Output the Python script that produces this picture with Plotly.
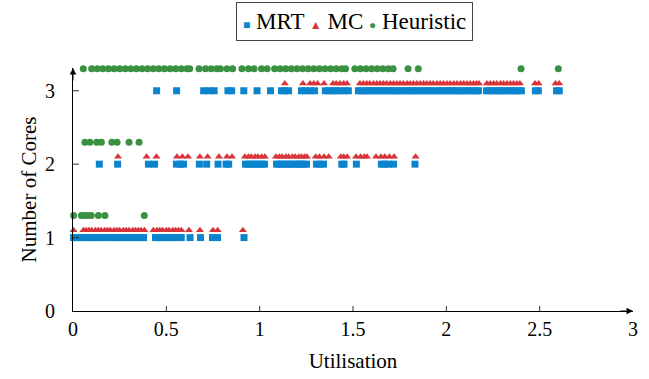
import plotly.graph_objects as go

# ---------------- data (utilisation values) ----------------
series_names = ["MRT", "MC", "Heuristic"]

# MRT
mrt_u_1 = [0.003, 0.02, 0.035, 0.05, 0.065, 0.085, 0.10, 0.115, 0.13, 0.15, 0.165, 0.18,
           0.20, 0.215, 0.23, 0.245, 0.265, 0.28, 0.295, 0.31, 0.33, 0.345, 0.36, 0.378,
           0.442, 0.46, 0.475, 0.49, 0.51, 0.525, 0.545, 0.56, 0.58, 0.627, 0.683, 0.747,
           0.774, 0.916]
mrt_u_2 = [0.141, 0.239, 0.404, 0.437, 0.554, 0.575, 0.592, 0.677, 0.716, 0.777, 0.82, 0.834,
           0.924, 0.94, 0.96, 0.975, 0.99, 1.01, 1.026, 1.09, 1.105, 1.12, 1.14, 1.155,
           1.17, 1.19, 1.205, 1.22, 1.235, 1.251, 1.304, 1.325, 1.342, 1.44, 1.452, 1.518,
           1.652, 1.67, 1.688, 1.717, 1.832]
mrt_u_3 = [0.448, 0.555, 0.70, 0.728, 0.756, 0.83, 0.85, 0.915, 0.986, 1.058, 1.117, 1.135,
           1.155, 1.224, 1.245, 1.27, 1.294, 1.352, 1.372, 1.392, 1.41, 1.43, 1.455, 1.475,
           1.529, 1.545, 1.562, 1.58, 1.596, 1.613, 1.63, 1.648, 1.665, 1.682, 1.70, 1.716,
           1.733, 1.75, 1.768, 1.785, 1.802, 1.82, 1.836, 1.853, 1.87, 1.888, 1.905, 1.922,
           1.94, 1.956, 1.973, 1.99, 2.008, 2.025, 2.042, 2.06, 2.076, 2.093, 2.11, 2.128,
           2.145, 2.16, 2.172, 2.215, 2.232, 2.25, 2.268, 2.285, 2.30, 2.318, 2.335, 2.352,
           2.37, 2.386, 2.402, 2.477, 2.493, 2.59, 2.605]

# MC
mc_u_1 = [0.003, 0.056, 0.07, 0.085, 0.10, 0.12, 0.135, 0.15, 0.17, 0.185, 0.20, 0.22,
          0.235, 0.25, 0.27, 0.285, 0.30, 0.32, 0.335, 0.35, 0.365, 0.383, 0.431, 0.45,
          0.465, 0.48, 0.50, 0.515, 0.535, 0.55, 0.565, 0.581, 0.621, 0.68, 0.75, 0.775,
          0.91]
mc_u_2 = [0.241, 0.394, 0.447, 0.557, 0.586, 0.616, 0.68, 0.721, 0.782, 0.825, 0.852,
          0.921, 0.94, 0.955, 0.975, 0.99, 1.01, 1.028, 1.087, 1.105, 1.12, 1.14, 1.155,
          1.175, 1.19, 1.21, 1.225, 1.24, 1.253, 1.30, 1.32, 1.345, 1.37, 1.435, 1.45,
          1.468, 1.516, 1.54, 1.56, 1.575, 1.623, 1.65, 1.67, 1.695, 1.72, 1.835]
mc_u_3 = [1.135, 1.232, 1.27, 1.29, 1.31, 1.345, 1.393, 1.41, 1.43, 1.45, 1.468, 1.537,
          1.556, 1.574, 1.59, 1.61, 1.628, 1.645, 1.663, 1.68, 1.70, 1.717, 1.735, 1.752,
          1.77, 1.79, 1.806, 1.824, 1.842, 1.86, 1.878, 1.895, 1.913, 1.93, 1.95, 1.967,
          1.985, 2.003, 2.02, 2.04, 2.057, 2.075, 2.093, 2.11, 2.128, 2.146, 2.162, 2.175,
          2.217, 2.235, 2.253, 2.27, 2.29, 2.307, 2.325, 2.343, 2.36, 2.378, 2.394, 2.475,
          2.495, 2.585, 2.605]

# Heuristic
heu_u_1 = [0.003, 0.045, 0.062, 0.08, 0.098, 0.136, 0.171, 0.382]
heu_u_2 = [0.064, 0.091, 0.127, 0.152, 0.208, 0.236, 0.30, 0.354]
heu_u_3 = [0.055, 0.10, 0.13, 0.16, 0.19, 0.22, 0.25, 0.28, 0.31, 0.34, 0.37, 0.40, 0.43,
           0.46, 0.49, 0.52, 0.55, 0.58, 0.61, 0.625, 0.675, 0.71, 0.74, 0.77, 0.79, 0.825,
           0.855, 0.905, 0.94, 0.97, 1.01, 1.04, 1.08, 1.11, 1.14, 1.17, 1.20, 1.23, 1.26,
           1.29, 1.32, 1.35, 1.38, 1.41, 1.44, 1.46, 1.51, 1.54, 1.57, 1.60, 1.63, 1.66,
           1.69, 1.715, 1.795, 1.85, 2.40, 2.60]

x_ticks = [0, 0.5, 1, 1.5, 2, 2.5, 3]
x_tick_labels = ["0", "0.5", "1", "1.5", "2", "2.5", "3"]
y_ticks = [0, 1, 2, 3]
y_tick_labels = ["0", "1", "2", "3"]

# ---------------- styling ----------------
FONT = "Liberation Serif, Times New Roman, serif"
BLUE = "#0b84ce"
RED = "#d8343a"
GREEN = "#3b9142"
colors = [BLUE, RED, GREEN]
symbols = ["square", "triangle-up", "circle"]
glyphs = ["&#9632;", "&#9650;", "&#9679;"]
offsets = [0.0, 0.1, 0.3]   # vertical display offset of each series


def expand(levels):
    xs, ys = [], []
    for cores, vals in levels:
        xs += vals
        ys += [cores] * len(vals)
    return xs, ys


data = [
    expand([(1, mrt_u_1), (2, mrt_u_2), (3, mrt_u_3)]),
    expand([(1, mc_u_1), (2, mc_u_2), (3, mc_u_3)]),
    expand([(1, heu_u_1), (2, heu_u_2), (3, heu_u_3)]),
]

fig = go.Figure()
for (xs, ys), name, col, sym, off in zip(data, series_names, colors, symbols, offsets):
    fig.add_trace(go.Scatter(
        x=xs, y=[v + off for v in ys], mode="markers", name=name,
        marker=dict(symbol=sym, size=7, color=col, line=dict(width=0)),
        cliponaxis=False,
    ))

Y_TOP = 3.31
fig.update_layout(
    width=649, height=379,
    margin=dict(l=73, r=16, t=68, b=68, autoexpand=False),
    plot_bgcolor="white", paper_bgcolor="white",
    showlegend=False,
    font=dict(family=FONT, size=20, color="black"),
)
fig.update_xaxes(
    range=[0, 3], tickvals=x_ticks, ticktext=x_tick_labels, automargin=False,
    showgrid=False, zeroline=False, showline=True, linecolor="black", linewidth=1,
    ticks="", ticklabelstandoff=0, tickfont=dict(family=FONT, size=20),
    title=dict(text="Utilisation", standoff=14, font=dict(family=FONT, size=21)),
)
fig.update_yaxes(
    range=[0, Y_TOP], tickvals=y_ticks, ticktext=y_tick_labels, automargin=False,
    showgrid=False, zeroline=False, showline=True, linecolor="black", linewidth=1,
    ticks="", ticklabelstandoff=13, tickfont=dict(family=FONT, size=20),
    title=dict(text="Number of Cores", standoff=2, font=dict(family=FONT, size=21)),
)

# crossing tick marks
for t in x_ticks[1:-1]:
    fig.add_shape(type="line", xref="x", yref="y", x0=t, x1=t,
                  ysizemode="pixel", yanchor=0, y0=-5, y1=5,
                  line=dict(color="#333", width=1))
for t in y_ticks[1:]:
    fig.add_shape(type="line", xref="x", yref="y", y0=t, y1=t,
                  xsizemode="pixel", xanchor=0, x0=-6, x1=6,
                  line=dict(color="#333", width=1))

# axis arrow heads
fig.add_annotation(x=3, y=0, xref="x", yref="y", ax=-14, ay=0, text="",
                   showarrow=True, arrowhead=2, arrowsize=1.3, arrowwidth=1,
                   arrowcolor="black")
fig.add_annotation(x=0, y=Y_TOP, xref="x", yref="y", ax=0, ay=14, text="",
                   showarrow=True, arrowhead=2, arrowsize=1.3, arrowwidth=1,
                   arrowcolor="black")

# legend box
legend_text = " ".join(
    f"<span style='color:{c};font-size:12px'>{g}</span> {n}"
    for c, g, n in zip(colors, glyphs, series_names)
)
fig.add_annotation(
    x=0.503, y=1.2716, xref="paper", yref="paper", xanchor="center", yanchor="top",
    text=legend_text, showarrow=False, font=dict(family=FONT, size=23, color="black"),
    bordercolor="#444", borderwidth=1, borderpad=6, bgcolor="white",
)

fig.write_html(
    "out.html",
    config={"displayModeBar": False},
    post_script="document.body.style.margin='0';document.body.style.padding='0';",
)
